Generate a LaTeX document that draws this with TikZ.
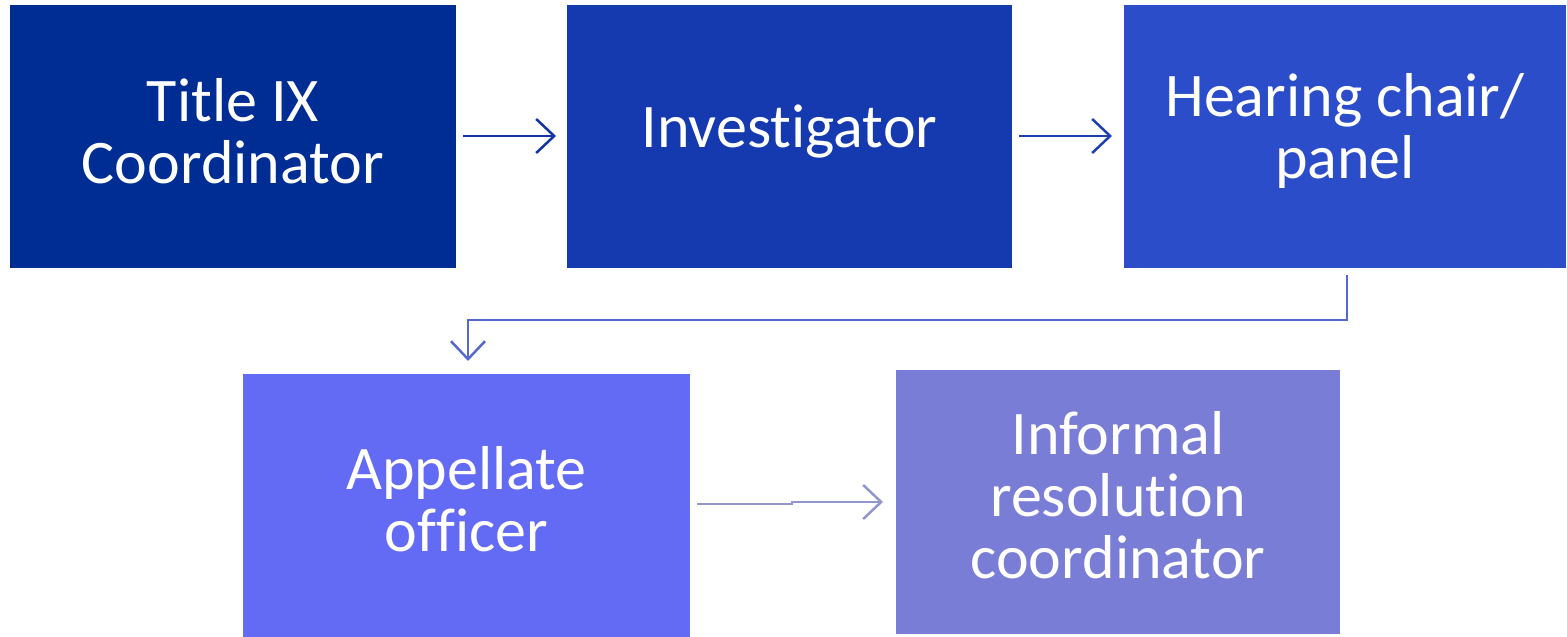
\documentclass[tikz,border=0pt]{standalone}
\usepackage{fontspec}
\setmainfont{Carlito}[RawFeature={-liga;-clig;-calt;-dlig}]
\usetikzlibrary{arrows.meta}
\definecolor{cA}{RGB}{0,45,148}
\definecolor{cB}{RGB}{21,58,176}
\definecolor{cC}{RGB}{44,77,201}
\definecolor{cD}{RGB}{99,106,244}
\definecolor{cE}{RGB}{121,125,214}
\definecolor{aA}{RGB}{20,52,165}
\definecolor{aB}{RGB}{30,62,180}
\definecolor{aC}{RGB}{85,105,205}
\definecolor{aD}{RGB}{145,150,205}
\newcommand{\nl}{\kern0pt }
\begin{document}
\begin{tikzpicture}[x=1pt,y=-1pt,
  boxnode/.style={rectangle,inner sep=0pt,outer sep=0pt,text=white,align=center,
    font=\fontsize{62}{62}\selectfont},
  conn/.style={line width=2.5pt,-{Straight Barb[length=18pt,width=34pt,line width=2.5pt]}}]
\useasboundingbox (0,0) rectangle (1567,637);
\path[fill=cA] (10,5) rectangle (456,268);
\path[fill=cB] (567,5) rectangle (1012,268);
\path[fill=cC] (1124,5) rectangle (1566,268);
\path[fill=cD] (243,374) rectangle (690,637);
\path[fill=cE] (896,370) rectangle (1340,634);
\node[boxnode] (t9) at (233,131) {Title IX\\Coordinator};
\node[boxnode] (inv) at (789.5,131) {Invest\nl igator};
\node[boxnode] (hc) at (1345,131) {Hearing chair/\\panel};
\node[boxnode] (ap) at (466.5,499) {Appellate\\of\nl f\nl icer};
\node[boxnode] (ir) at (1118,495) {Informal\\resolut\nl ion\\coordinator};
\coordinate (a1s) at (463,136);
\coordinate (a1e) at (556,136);
\draw[conn,draw=aA] (a1s) -- (a1e);
\coordinate (a2s) at (1019,136);
\coordinate (a2e) at (1112,136);
\draw[conn,draw=aB] (a2s) -- (a2e);
\coordinate (e1) at (1347,275);
\coordinate (e2) at (1347,320);
\coordinate (e3) at (468,320);
\coordinate (e4) at (468,361);
\draw[conn,draw=aC] (e1) -- (e2) -- (e3) -- (e4);
\coordinate (b1) at (697,504);
\coordinate (b2) at (792,504);
\coordinate (b3) at (792,502);
\coordinate (b4) at (883,502);
\draw[conn,draw=aD] (b1) -- (b2) -- (b3) -- (b4);
\end{tikzpicture}
\end{document}
